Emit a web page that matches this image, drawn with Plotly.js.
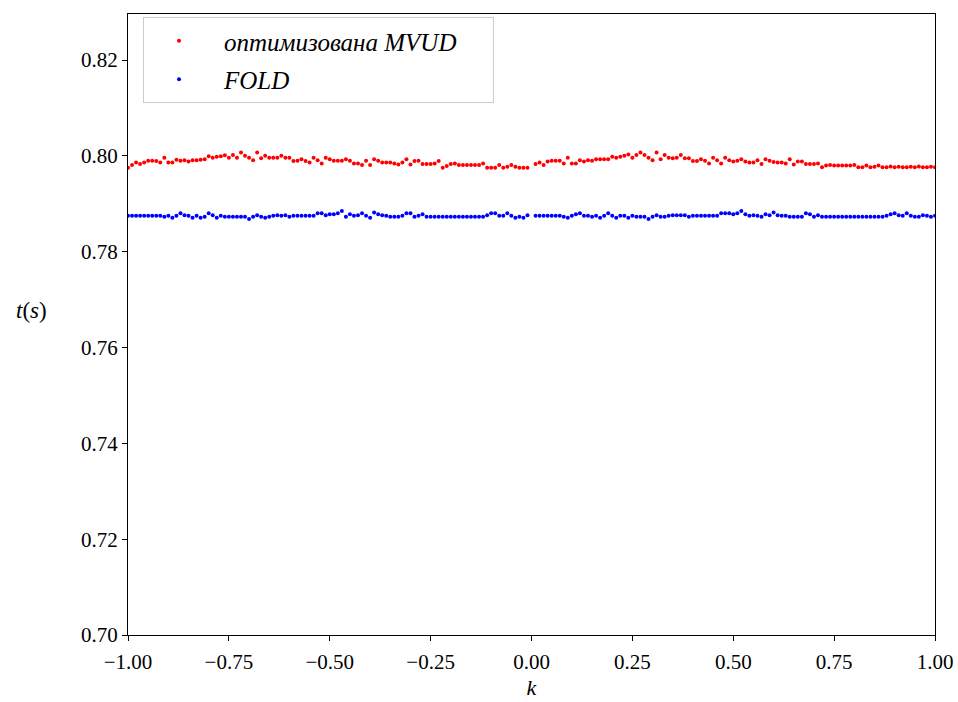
<!DOCTYPE html>
<html>
<head>
<meta charset="utf-8">
<script src="https://cdn.plot.ly/plotly-3.0.1.min.js"></script>
<style>html,body{margin:0;padding:0;background:#fff;}#chart{width:958px;height:702px;}</style>
</head>
<body>
<div id="chart"></div>
<script>
var kValues = [
-1.00,-0.99,-0.98,-0.97,-0.96,-0.95,-0.94,-0.93,-0.92,-0.91,-0.90,-0.89,-0.88,-0.87,-0.86,-0.85,-0.84,-0.83,-0.82,-0.81,-0.80,-0.79,-0.78,-0.77,-0.76,
-0.75,-0.74,-0.73,-0.72,-0.71,-0.70,-0.69,-0.68,-0.67,-0.66,-0.65,-0.64,-0.63,-0.62,-0.61,-0.60,-0.59,-0.58,-0.57,-0.56,-0.55,-0.54,-0.53,-0.52,-0.51,
-0.50,-0.49,-0.48,-0.47,-0.46,-0.45,-0.44,-0.43,-0.42,-0.41,-0.40,-0.39,-0.38,-0.37,-0.36,-0.35,-0.34,-0.33,-0.32,-0.31,-0.30,-0.29,-0.28,-0.27,-0.26,
-0.25,-0.24,-0.23,-0.22,-0.21,-0.20,-0.19,-0.18,-0.17,-0.16,-0.15,-0.14,-0.13,-0.12,-0.11,-0.10,-0.09,-0.08,-0.07,-0.06,-0.05,-0.04,-0.03,-0.02,-0.01,
0.00,
0.01,0.02,0.03,0.04,0.05,0.06,0.07,0.08,0.09,0.10,0.11,0.12,0.13,0.14,0.15,0.16,0.17,0.18,0.19,0.20,0.21,0.22,0.23,0.24,0.25,
0.26,0.27,0.28,0.29,0.30,0.31,0.32,0.33,0.34,0.35,0.36,0.37,0.38,0.39,0.40,0.41,0.42,0.43,0.44,0.45,0.46,0.47,0.48,0.49,0.50,
0.51,0.52,0.53,0.54,0.55,0.56,0.57,0.58,0.59,0.60,0.61,0.62,0.63,0.64,0.65,0.66,0.67,0.68,0.69,0.70,0.71,0.72,0.73,0.74,0.75,
0.76,0.77,0.78,0.79,0.80,0.81,0.82,0.83,0.84,0.85,0.86,0.87,0.88,0.89,0.90,0.91,0.92,0.93,0.94,0.95,0.96,0.97,0.98,0.99,1.00
];

var mvudTimes = [
0.7975,0.7981,0.7986,0.7983,0.7986,0.7990,0.7990,0.7989,0.7986,0.7996,0.7986,0.7986,0.7992,0.7990,0.7991,0.7988,0.7991,0.7991,0.7992,0.7993,0.7999,0.7996,0.7998,0.7999,0.8001,
0.7996,0.8002,0.7996,0.8007,0.8000,0.7996,0.7991,0.8007,0.7995,0.8000,0.7996,0.7996,0.7996,0.8000,0.7996,0.7996,0.7989,0.7990,0.7993,0.7989,0.7986,0.7996,0.7991,0.7984,0.7996,
0.7993,0.7990,0.7990,0.7990,0.7993,0.7990,0.7984,0.7984,0.7981,0.7990,0.7981,0.7993,0.7990,0.7986,0.7986,0.7986,0.7984,0.7982,0.7986,0.7993,0.7982,0.7989,0.7990,0.7983,0.7983,
0.7983,0.7984,0.7989,0.7975,0.7979,0.7983,0.7984,0.7981,0.7981,0.7981,0.7981,0.7981,0.7981,0.7984,0.7975,0.7975,0.7975,0.7981,0.7975,0.7977,0.7981,0.7977,0.7975,0.7975,0.7975,
null,
0.7983,0.7986,0.7981,0.7988,0.7990,0.7990,0.7990,0.7984,0.7996,0.7984,0.7984,0.7991,0.7988,0.7991,0.7990,0.7993,0.7993,0.7993,0.7993,0.7998,0.7996,0.7998,0.8000,0.8003,0.7996,
0.8002,0.8007,0.8002,0.7996,0.7991,0.8007,0.7993,0.8002,0.7996,0.7995,0.7996,0.8002,0.7995,0.7995,0.7989,0.7989,0.7993,0.7990,0.7984,0.7996,0.7991,0.7984,0.7996,0.7991,0.7988,
0.7990,0.7993,0.7988,0.7986,0.7986,0.7991,0.7983,0.7993,0.7990,0.7987,0.7986,0.7986,0.7984,0.7993,0.7982,0.7988,0.7988,0.7983,0.7983,0.7983,0.7984,0.7976,0.7980,0.7981,0.7980,
0.7980,0.7980,0.7980,0.7980,0.7981,0.7976,0.7976,0.7980,0.7976,0.7977,0.7980,0.7976,0.7976,0.7978,0.7976,0.7977,0.7976,0.7976,0.7977,0.7976,0.7978,0.7976,0.7976,0.7977,0.7976
];

var foldTimes = [
0.7875,0.7875,0.7875,0.7875,0.7875,0.7875,0.7875,0.7875,0.7875,0.7873,0.7875,0.7871,0.7875,0.7880,0.7876,0.7875,0.7871,0.7875,0.7871,0.7873,0.7880,0.7876,0.7871,0.7875,0.7873,
0.7873,0.7873,0.7873,0.7873,0.7873,0.7868,0.7873,0.7876,0.7873,0.7871,0.7873,0.7875,0.7876,0.7875,0.7876,0.7873,0.7875,0.7875,0.7875,0.7875,0.7875,0.7875,0.7880,0.7880,0.7876,
0.7878,0.7878,0.7880,0.7885,0.7873,0.7878,0.7875,0.7876,0.7880,0.7875,0.7871,0.7882,0.7878,0.7876,0.7875,0.7873,0.7873,0.7873,0.7875,0.7880,0.7880,0.7873,0.7875,0.7878,0.7873,
0.7873,0.7873,0.7873,0.7873,0.7873,0.7873,0.7873,0.7873,0.7873,0.7873,0.7873,0.7873,0.7873,0.7873,0.7876,0.7880,0.7880,0.7875,0.7875,0.7880,0.7875,0.7871,0.7873,0.7871,0.7876,
null,
0.7875,0.7875,0.7875,0.7875,0.7875,0.7875,0.7875,0.7873,0.7871,0.7875,0.7878,0.7880,0.7875,0.7875,0.7873,0.7875,0.7871,0.7875,0.7880,0.7875,0.7871,0.7875,0.7875,0.7871,0.7875,
0.7873,0.7873,0.7873,0.7868,0.7873,0.7876,0.7873,0.7873,0.7875,0.7876,0.7876,0.7876,0.7876,0.7873,0.7875,0.7875,0.7875,0.7875,0.7875,0.7875,0.7875,0.7880,0.7880,0.7880,0.7878,
0.7880,0.7885,0.7878,0.7875,0.7876,0.7875,0.7873,0.7878,0.7876,0.7882,0.7876,0.7875,0.7875,0.7873,0.7873,0.7873,0.7873,0.7880,0.7878,0.7873,0.7876,0.7873,0.7873,0.7873,0.7873,
0.7873,0.7873,0.7873,0.7873,0.7873,0.7873,0.7873,0.7873,0.7873,0.7873,0.7873,0.7873,0.7875,0.7878,0.7880,0.7876,0.7875,0.7880,0.7875,0.7873,0.7873,0.7876,0.7875,0.7873,0.7875
];

var NB = '\u00A0';
var seriesNames = [NB + NB + NB + NB + '<i>оптимизована MVUD</i>' + NB + NB + NB + NB + NB,
                   NB + NB + NB + NB + '<i>FOLD</i>'];
var xTickVals = [-1, -0.75, -0.5, -0.25, 0, 0.25, 0.5, 0.75, 1];
var yTickVals = [0.70, 0.72, 0.74, 0.76, 0.78, 0.80, 0.82];

var FONT = 'Liberation Serif, DejaVu Serif, serif';

var traces = [
  {x: kValues, y: mvudTimes, type: 'scatter', mode: 'markers', name: seriesNames[0],
   legendgroup: 'g1', marker: {color: '#ff0000', size: 4}},
  {x: kValues, y: foldTimes, type: 'scatter', mode: 'markers', name: seriesNames[1],
   legendgroup: 'g2', marker: {color: '#0000ff', size: 4}}
];

var axisCommon = {
  showgrid: false, zeroline: false, showline: true, linecolor: '#000', linewidth: 1,
  mirror: true, ticks: 'outside', ticklen: 5, tickwidth: 1, tickcolor: '#000',
  tickfont: {family: FONT, size: 21, color: '#000'}, tickformat: '.2f'
};

var layout = {
  width: 958, height: 702,
  margin: {l: 128, r: 23, t: 14, b: 67, pad: 0},
  paper_bgcolor: '#fff', plot_bgcolor: '#fff',
  showlegend: true,
  legend: {
    x: 0.0186, y: 0.995, xanchor: 'left', yanchor: 'top',
    bgcolor: 'rgba(255,255,255,0.9)', bordercolor: '#cccccc', borderwidth: 1,
    font: {family: FONT, size: 25, color: '#000'},
    itemsizing: 'trace', tracegroupgap: 3, indentation: 15
  },
  xaxis: Object.assign({}, axisCommon, {
    range: [-1, 1], tickvals: xTickVals, ticklabelstandoff: 3,
    title: {text: '<i>k</i>', font: {family: FONT, size: 22, color: '#000'}, standoff: 6}
  }),
  yaxis: Object.assign({}, axisCommon, {
    range: [0.70, 0.8296], tickvals: yTickVals
  }),
  annotations: [{
    text: '<i>t</i>(<i>s</i>)', xref: 'paper', yref: 'paper', x: -0.119, y: 0.523,
    xanchor: 'center', yanchor: 'middle', showarrow: false,
    font: {family: FONT, size: 23, color: '#000'}
  }]
};

Plotly.newPlot('chart', traces, layout, {displayModeBar: false, staticPlot: true});
</script>
</body>
</html>
